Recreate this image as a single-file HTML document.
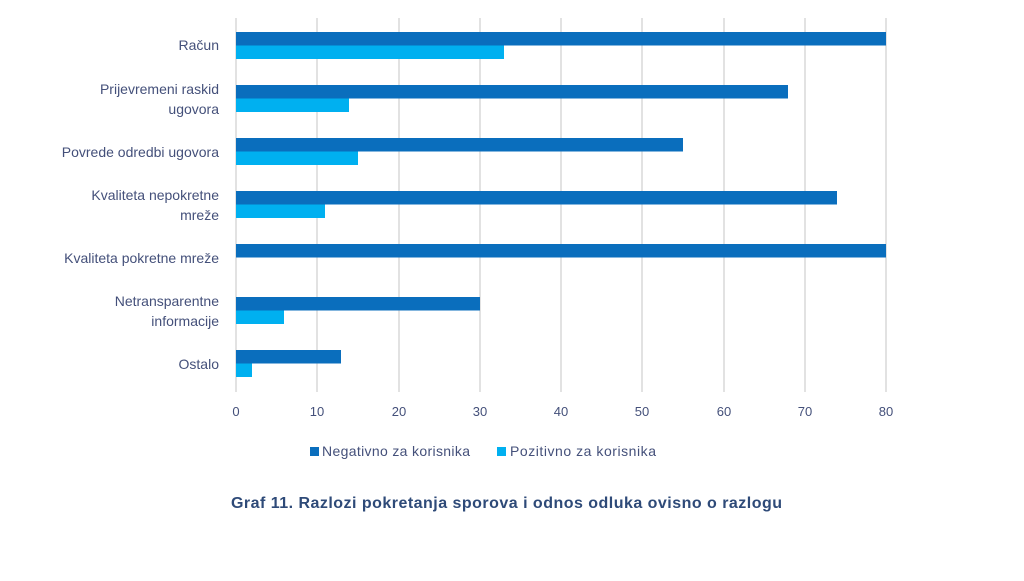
<!DOCTYPE html>
<html><head><meta charset="utf-8"><style>
body{margin:0;background:#fff;width:1024px;height:576px;overflow:hidden}
text{font-family:"Liberation Sans",sans-serif;fill:#44507a}
</style></head><body>
<svg width="1024" height="576" xmlns="http://www.w3.org/2000/svg">
<g stroke="#d9d9d9" stroke-width="1.5">
<line x1="236" y1="18" x2="236" y2="392"/><line x1="317" y1="18" x2="317" y2="392"/>
<line x1="399" y1="18" x2="399" y2="392"/><line x1="480" y1="18" x2="480" y2="392"/>
<line x1="561" y1="18" x2="561" y2="392"/><line x1="642" y1="18" x2="642" y2="392"/>
<line x1="724" y1="18" x2="724" y2="392"/><line x1="805" y1="18" x2="805" y2="392"/>
<line x1="886" y1="18" x2="886" y2="392"/>
</g>
<g fill="#0a6ebd">
<rect x="236" y="32" width="650" height="13.5"/>
<rect x="236" y="85" width="552" height="13.5"/>
<rect x="236" y="138" width="447" height="13.5"/>
<rect x="236" y="191" width="601" height="13.5"/>
<rect x="236" y="244" width="650" height="13.5"/>
<rect x="236" y="297" width="244" height="13.5"/>
<rect x="236" y="350" width="105" height="13.5"/>
</g>
<g fill="#00b0f0">
<rect x="236" y="45.5" width="268" height="13.5"/>
<rect x="236" y="98.5" width="113" height="13.5"/>
<rect x="236" y="151.5" width="122" height="13.5"/>
<rect x="236" y="204.5" width="89" height="13.5"/>
<rect x="236" y="310.5" width="48" height="13.5"/>
<rect x="236" y="363.5" width="16" height="13.5"/>
</g>
<g font-size="14" text-anchor="end">
<text x="219" y="50">Račun</text>
<text x="219" y="94">Prijevremeni raskid</text><text x="219" y="114">ugovora</text>
<text x="219" y="157">Povrede odredbi ugovora</text>
<text x="219" y="200">Kvaliteta nepokretne</text><text x="219" y="220">mreže</text>
<text x="219" y="263">Kvaliteta pokretne mreže</text>
<text x="219" y="306">Netransparentne</text><text x="219" y="326">informacije</text>
<text x="219" y="369">Ostalo</text>
</g>
<g font-size="13" text-anchor="middle">
<text x="236" y="416">0</text><text x="317" y="416">10</text><text x="399" y="416">20</text>
<text x="480" y="416">30</text><text x="561" y="416">40</text><text x="642" y="416">50</text>
<text x="724" y="416">60</text><text x="805" y="416">70</text><text x="886" y="416">80</text>
</g>
<rect x="310" y="447" width="9" height="9" fill="#0a6ebd"/>
<text x="322" y="456" font-size="14" textLength="148" lengthAdjust="spacing">Negativno za korisnika</text>
<rect x="497" y="447" width="9" height="9" fill="#00b0f0"/>
<text x="510" y="456" font-size="14" textLength="146" lengthAdjust="spacing">Pozitivno za korisnika</text>
<text x="231" y="508" font-size="16" font-weight="bold" style="fill:#2e4a78" textLength="551" lengthAdjust="spacing">Graf 11. Razlozi pokretanja sporova i odnos odluka ovisno o razlogu</text>
</svg>
</body></html>
